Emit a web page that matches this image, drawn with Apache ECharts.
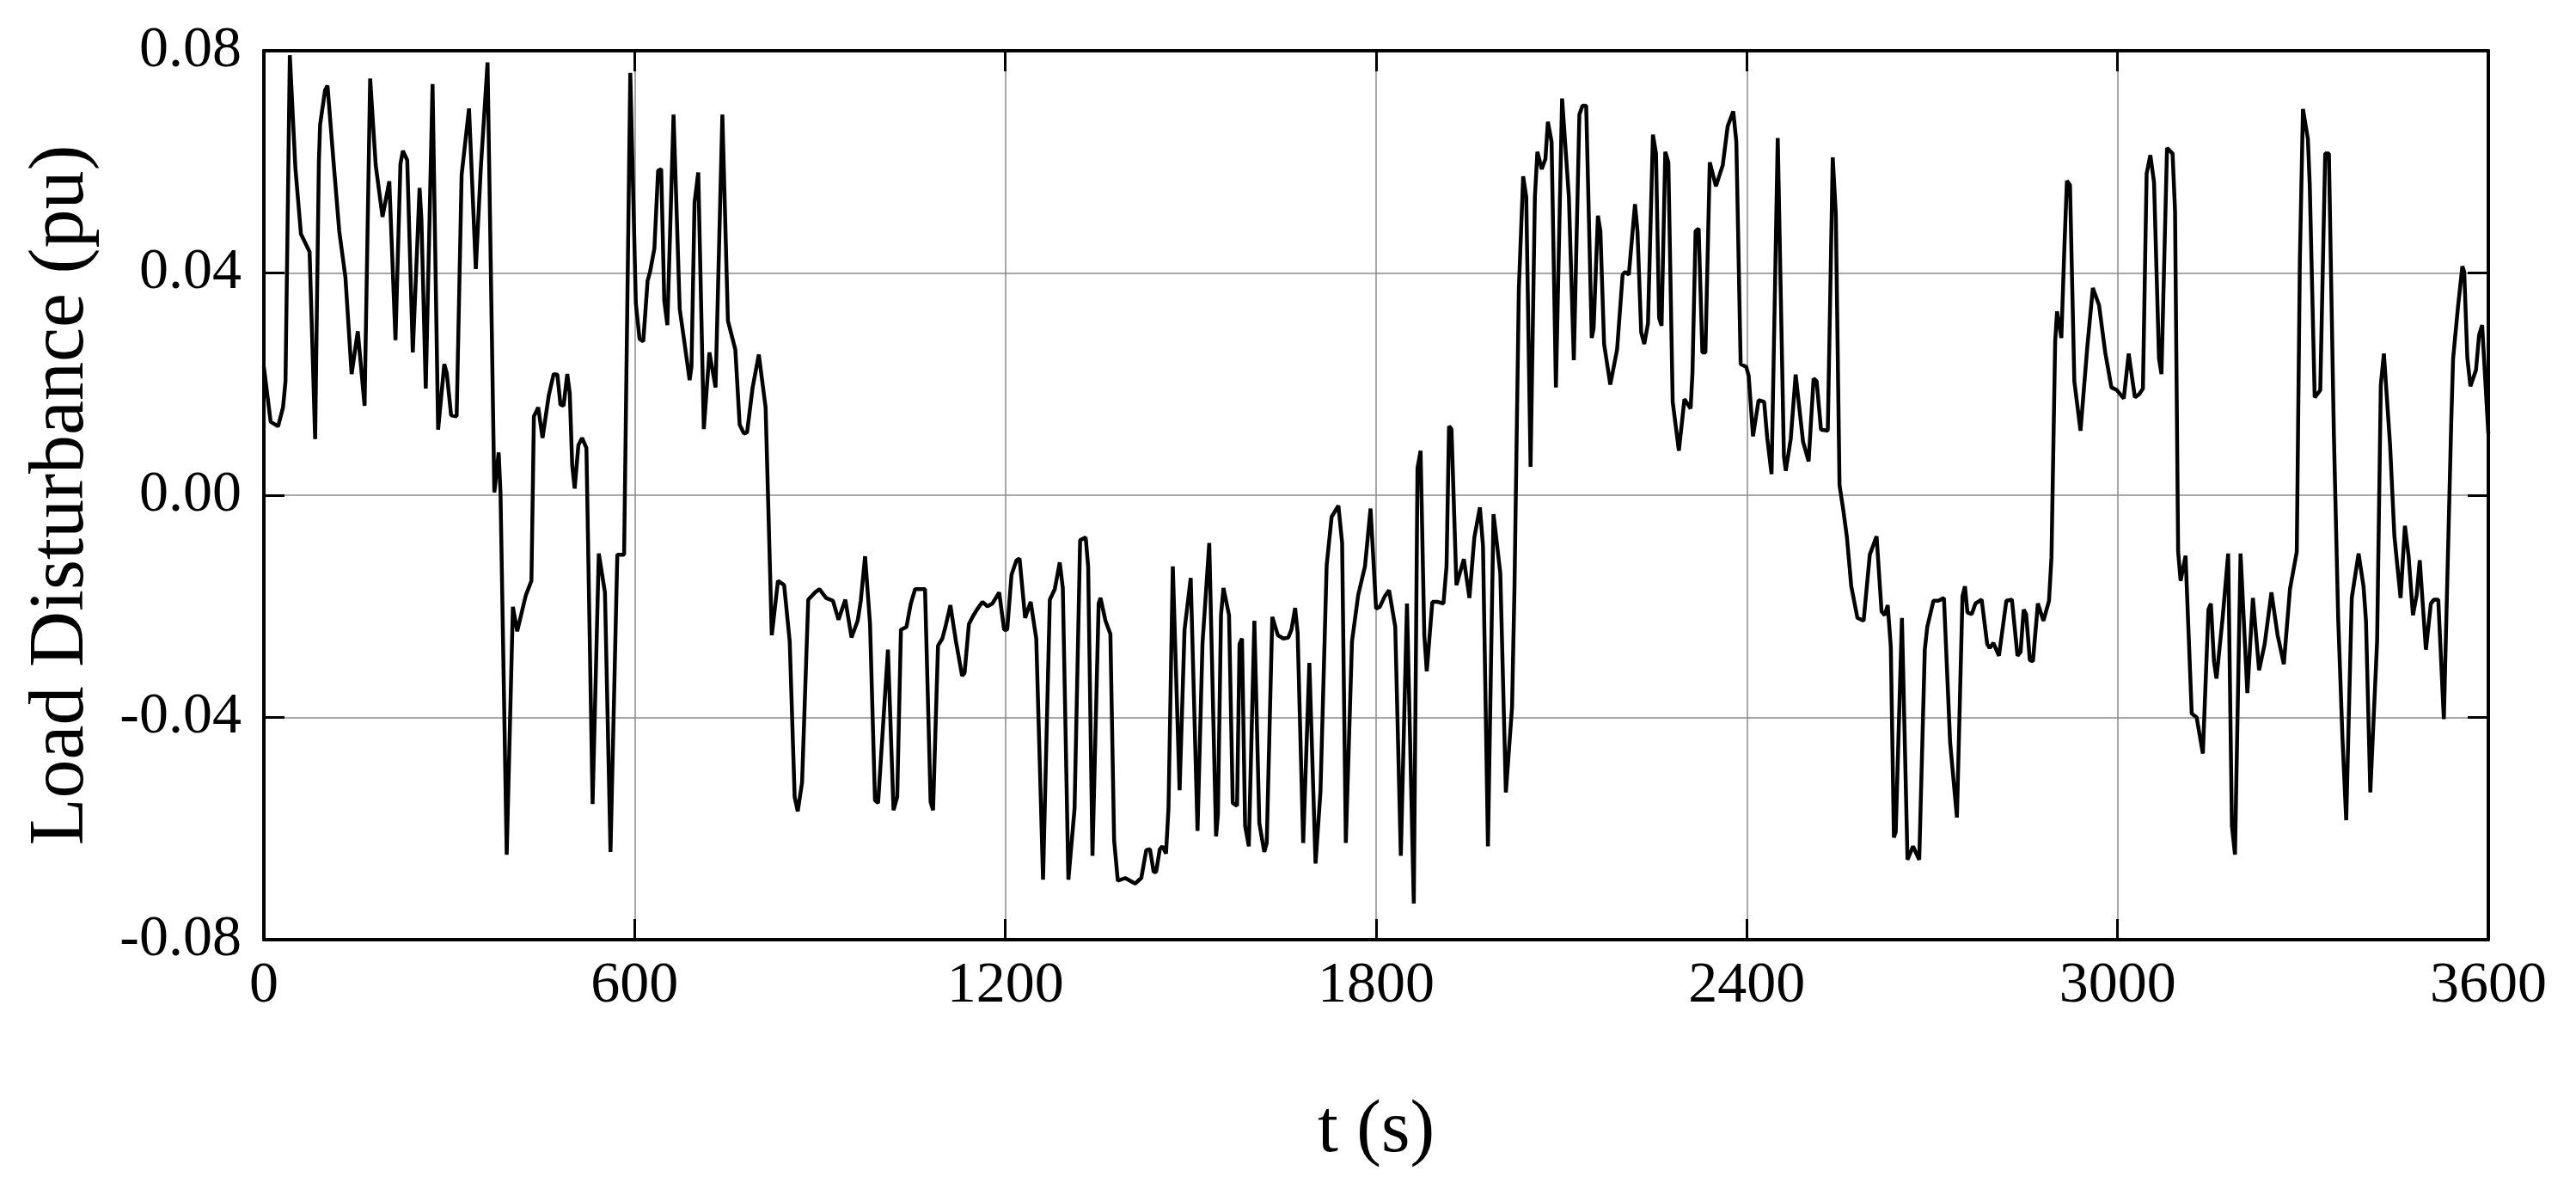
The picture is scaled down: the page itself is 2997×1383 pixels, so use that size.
<!DOCTYPE html>
<html>
<head>
<meta charset="utf-8">
<script src="https://cdn.jsdelivr.net/npm/echarts@6/dist/echarts.min.js"></script>
<style>
  html, body { margin: 0; padding: 0; background: #fff; }
  #chart { width: 2997px; height: 1383px; }
</style>
</head>
<body>
<div id="chart"></div>
<script>
// time stamps (s) of the load disturbance trace
var time = [
    0, 11, 23, 31, 35, 42, 51, 60, 67, 74, 83, 89, 91, 99, 103, 112, 122, 132, 142, 152,
    163, 172, 181, 192, 203, 213, 221, 225, 232, 241, 252, 255, 262, 273, 282, 292, 296, 303, 312, 320,
    332, 343, 351, 362, 373, 380, 383, 393, 403, 410, 424, 433, 437, 444, 451, 461, 469, 475, 480, 485,
    491, 495, 499, 503, 509, 515, 522, 532, 542, 546, 552, 561, 572, 583, 593, 602, 608, 614, 621, 625,
    632, 638, 643, 648, 653, 663, 673, 681, 689, 692, 697, 703, 712, 721, 731, 742, 751, 763, 770, 777,
    782, 791, 801, 812, 822, 832, 842, 851, 859, 864, 871, 881, 892, 899, 910, 921, 930, 941, 951, 961,
    966, 973, 981, 989, 994, 1010, 1019, 1025, 1031, 1040, 1047, 1054, 1070, 1079, 1083, 1091, 1098, 1103, 1111, 1120,
    1130, 1134, 1141, 1147, 1154, 1163, 1171, 1179, 1190, 1198, 1203, 1210, 1218, 1223, 1232, 1241, 1250, 1261, 1272, 1280,
    1288, 1293, 1302, 1312, 1321, 1330, 1334, 1341, 1351, 1354, 1362, 1370, 1376, 1382, 1394, 1402, 1410, 1420, 1428, 1434,
    1440, 1444, 1450, 1454, 1460, 1464, 1471, 1482, 1490, 1500, 1511, 1519, 1530, 1541, 1544, 1549, 1553, 1562, 1568, 1575,
    1579, 1583, 1588, 1594, 1603, 1611, 1619, 1623, 1632, 1641, 1650, 1658, 1663, 1669, 1673, 1682, 1692, 1702, 1710, 1720,
    1728, 1739, 1745, 1751, 1761, 1771, 1782, 1791, 1800, 1806, 1814, 1821, 1831, 1840, 1850, 1861, 1867, 1872, 1878, 1882,
    1891, 1900, 1909, 1914, 1918, 1922, 1930, 1942, 1951, 1959, 1968, 1973, 1981, 1990, 2001, 2010, 2020, 2024, 2031, 2038,
    2043, 2050, 2057, 2061, 2068, 2074, 2078, 2084, 2091, 2101, 2112, 2120, 2129, 2134, 2140, 2149, 2152, 2159, 2163, 2169,
    2179, 2190, 2199, 2203, 2209, 2219, 2223, 2229, 2234, 2240, 2248, 2253, 2258, 2262, 2268, 2273, 2280, 2290, 2299, 2309,
    2312, 2317, 2322, 2328, 2333, 2340, 2350, 2361, 2369, 2378, 2383, 2390, 2399, 2403, 2410, 2419, 2428, 2433, 2440, 2450,
    2460, 2463, 2471, 2479, 2491, 2500, 2508, 2513, 2520, 2531, 2539, 2544, 2550, 2556, 2562, 2569, 2579, 2589, 2599, 2610,
    2618, 2623, 2628, 2633, 2638, 2641, 2651, 2660, 2669, 2679, 2688, 2692, 2702, 2710, 2719, 2729, 2740, 2749, 2753, 2757,
    2764, 2770, 2780, 2789, 2793, 2799, 2808, 2820, 2829, 2838, 2843, 2848, 2852, 2858, 2863, 2871, 2880, 2889, 2893, 2899,
    2902, 2909, 2914, 2918, 2923, 2930, 2940, 2951, 2960, 2970, 2980, 2990, 2999, 3010, 3018, 3028, 3035, 3041, 3047, 3053,
    3059, 3067, 3071, 3080, 3089, 3093, 3098, 3102, 3110, 3120, 3128, 3138, 3147, 3151, 3156, 3160, 3170, 3179, 3185, 3190,
    3199, 3210, 3219, 3229, 3238, 3249, 3259, 3269, 3279, 3290, 3295, 3300, 3308, 3311, 3319, 3328, 3336, 3342, 3350, 3357,
    3364, 3370, 3379, 3390, 3398, 3402, 3409, 3420, 3426, 3431, 3441, 3448, 3458, 3465, 3471, 3478, 3484, 3489, 3499, 3507,
    3512, 3519, 3528, 3540, 3543, 3551, 3558, 3561, 3566, 3571, 3580, 3585, 3590, 3600
];

// load disturbance (pu)
var load = [
    0.0231, 0.0132, 0.0124, 0.0158, 0.0205, 0.0792, 0.0589, 0.0470, 0.0454, 0.0438, 0.0101, 0.0600, 0.0667, 0.0729, 0.0737, 0.0610, 0.0475, 0.0392, 0.0218, 0.0295,
    0.0161, 0.0750, 0.0594, 0.0501, 0.0565, 0.0279, 0.0596, 0.0620, 0.0603, 0.0257, 0.0553, 0.0496, 0.0192, 0.0740, 0.0118, 0.0236, 0.0220, 0.0144, 0.0142, 0.0576,
    0.0696, 0.0407, 0.0587, 0.0779, 0.0005, 0.0077, 0.0002, -0.0647, -0.0201, -0.0245, -0.0180, -0.0154, 0.0142, 0.0158, 0.0103, 0.0179, 0.0218, 0.0217, 0.0163, 0.0161,
    0.0218, 0.0184, 0.0054, 0.0012, 0.0090, 0.0103, 0.0085, -0.0556, -0.0105, -0.0133, -0.0175, -0.0642, -0.0107, -0.0107, 0.0760, 0.0345, 0.0281, 0.0277, 0.0386, 0.0402,
    0.0444, 0.0584, 0.0587, 0.0350, 0.0306, 0.0685, 0.0335, 0.0272, 0.0207, 0.0231, 0.0527, 0.0581, 0.0119, 0.0257, 0.0194, 0.0685, 0.0314, 0.0262, 0.0127, 0.0111,
    0.0113, 0.0194, 0.0253, 0.0158, -0.0252, -0.0154, -0.0162, -0.0263, -0.0543, -0.0569, -0.0517, -0.0188, -0.0175, -0.0169, -0.0185, -0.0190, -0.0224, -0.0188, -0.0256, -0.0226,
    -0.0190, -0.0110, -0.0232, -0.0549, -0.0554, -0.0278, -0.0567, -0.0543, -0.0242, -0.0237, -0.0195, -0.0169, -0.0169, -0.0552, -0.0567, -0.0271, -0.0258, -0.0237, -0.0198, -0.0263,
    -0.0325, -0.0320, -0.0232, -0.0219, -0.0206, -0.0192, -0.0200, -0.0195, -0.0175, -0.0242, -0.0242, -0.0143, -0.0117, -0.0114, -0.0221, -0.0192, -0.0258, -0.0692, -0.0188, -0.0169,
    -0.0121, -0.0167, -0.0692, -0.0564, -0.0081, -0.0076, -0.0128, -0.0649, -0.0195, -0.0185, -0.0226, -0.0250, -0.0621, -0.0694, -0.0689, -0.0694, -0.0699, -0.0689, -0.0639, -0.0637,
    -0.0678, -0.0678, -0.0637, -0.0632, -0.0645, -0.0564, -0.0128, -0.0531, -0.0242, -0.0149, -0.0604, -0.0268, -0.0086, -0.0614, -0.0575, -0.0216, -0.0167, -0.0216, -0.0554, -0.0559,
    -0.0268, -0.0258, -0.0595, -0.0632, -0.0226, -0.0590, -0.0642, -0.0626, -0.0219, -0.0252, -0.0258, -0.0256, -0.0242, -0.0203, -0.0247, -0.0626, -0.0302, -0.0663, -0.0533, -0.0126,
    -0.0039, -0.0019, -0.0086, -0.0626, -0.0263, -0.0180, -0.0128, -0.0024, -0.0204, -0.0201, -0.0182, -0.0171, -0.0237, -0.0649, -0.0195, -0.0735, 0.0049, 0.0080, -0.0252, -0.0317,
    -0.0192, -0.0192, -0.0195, -0.0128, 0.0124, 0.0119, -0.0162, -0.0115, -0.0185, -0.0076, -0.0022, -0.0091, -0.0632, -0.0034, -0.0140, -0.0535, -0.0382, -0.0164, 0.0371, 0.0574,
    0.0537, 0.0051, 0.0537, 0.0618, 0.0587, 0.0605, 0.0672, 0.0636, 0.0194, 0.0714, 0.0537, 0.0243, 0.0685, 0.0701, 0.0701, 0.0283, 0.0300, 0.0503, 0.0475, 0.0272,
    0.0199, 0.0262, 0.0397, 0.0402, 0.0397, 0.0524, 0.0475, 0.0293, 0.0272, 0.0309, 0.0649, 0.0615, 0.0319, 0.0305, 0.0618, 0.0599, 0.0168, 0.0080, 0.0173, 0.0156,
    0.0220, 0.0475, 0.0480, 0.0257, 0.0257, 0.0599, 0.0556, 0.0594, 0.0664, 0.0691, 0.0636, 0.0236, 0.0231, 0.0215, 0.0106, 0.0171, 0.0168, 0.0103, 0.0038, 0.0643,
    0.0070, 0.0044, 0.0101, 0.0217, 0.0096, 0.0061, 0.0210, 0.0205, 0.0118, 0.0116, 0.0608, 0.0506, 0.0018, -0.0026, -0.0076, -0.0164, -0.0221, -0.0226, -0.0107, -0.0074,
    -0.0209, -0.0216, -0.0198, -0.0273, -0.0616, -0.0606, -0.0221, -0.0656, -0.0632, -0.0656, -0.0278, -0.0237, -0.0190, -0.0190, -0.0185, -0.0445, -0.0580, -0.0182, -0.0164, -0.0211,
    -0.0214, -0.0195, -0.0188, -0.0268, -0.0275, -0.0266, -0.0289, -0.0190, -0.0188, -0.0289, -0.0282, -0.0206, -0.0214, -0.0297, -0.0299, -0.0195, -0.0226, -0.0190, -0.0112, 0.0277,
    0.0331, 0.0283, 0.0449, 0.0566, 0.0558, 0.0205, 0.0116, 0.0267, 0.0373, 0.0342, 0.0257, 0.0194, 0.0189, 0.0174, 0.0255, 0.0176, 0.0182, 0.0192, 0.0579, 0.0612,
    0.0563, 0.0246, 0.0218, 0.0625, 0.0615, 0.0511, -0.0102, -0.0154, -0.0109, -0.0393, -0.0400, -0.0465, -0.0206, -0.0195, -0.0299, -0.0330, -0.0221, -0.0105, -0.0595, -0.0647,
    -0.0105, -0.0356, -0.0185, -0.0315, -0.0268, -0.0175, -0.0252, -0.0304, -0.0169, -0.0102, 0.0423, 0.0695, 0.0641, 0.0558, 0.0176, 0.0189, 0.0615, 0.0615, 0.0111, -0.0221,
    -0.0439, -0.0585, -0.0185, -0.0105, -0.0164, -0.0226, -0.0535, -0.0263, 0.0199, 0.0255, 0.0090, -0.0074, -0.0185, -0.0055, -0.0110, -0.0216, -0.0180, -0.0117, -0.0278, -0.0195,
    -0.0188, -0.0188, -0.0403, 0.0132, 0.0246, 0.0340, 0.0412, 0.0402, 0.0248, 0.0196, 0.0225, 0.0288, 0.0306, 0.0111
];

// axis ticks
var xTicks = [0, 600, 1200, 1800, 2400, 3000, 3600];
var yTicks = [-0.08, -0.04, 0.00, 0.04, 0.08];

var font = 'Liberation Serif';
var chart = echarts.init(document.getElementById('chart'));

var points = [];
for (var i = 0; i < time.length; i++) {
    points.push([time[i], load[i]]);
}

var tickStyle = {
    show: true,
    inside: true,
    length: 24,
    lineStyle: { color: '#000', width: 3 }
};
var frameLine = {
    show: true,
    onZero: false,
    lineStyle: { color: '#000', width: 4 }
};
var gridLine = {
    show: true,
    lineStyle: { color: '#8a8a8a', width: 1.5 }
};

var opt = {
    backgroundColor: '#fff',
    animation: false,
    grid: {
        left: 307,
        right: 102,
        top: 59,
        bottom: 290
    },
    xAxis: [
        {
            type: 'value',
            position: 'bottom',
            min: xTicks[0],
            max: xTicks[xTicks.length - 1],
            interval: 600,
            name: 't (s)',
            nameLocation: 'middle',
            nameGap: 180,
            nameTextStyle: { fontFamily: font, fontSize: 86, color: '#000' },
            axisLine: frameLine,
            axisTick: tickStyle,
            splitLine: gridLine,
            axisLabel: {
                margin: 20,
                fontFamily: font,
                fontSize: 68,
                color: '#000',
                formatter: function(v) {
                    return String(v);
                }
            }
        },
        {
            type: 'value',
            position: 'top',
            min: xTicks[0],
            max: xTicks[xTicks.length - 1],
            interval: 600,
            axisLine: frameLine,
            axisTick: tickStyle,
            splitLine: { show: false },
            axisLabel: { show: false }
        }
    ],
    yAxis: [
        {
            type: 'value',
            position: 'left',
            min: yTicks[0],
            max: yTicks[yTicks.length - 1],
            interval: 0.04,
            name: 'Load Disturbance (pu)',
            nameLocation: 'middle',
            nameGap: 190,
            nameTextStyle: { fontFamily: font, fontSize: 90, color: '#000' },
            axisLine: frameLine,
            axisTick: tickStyle,
            splitLine: gridLine,
            axisLabel: {
                margin: 26,
                fontFamily: font,
                fontSize: 68,
                color: '#000',
                formatter: function(v) {
                    return v.toFixed(2);
                }
            }
        },
        {
            type: 'value',
            position: 'right',
            min: yTicks[0],
            max: yTicks[yTicks.length - 1],
            interval: 0.04,
            axisLine: frameLine,
            axisTick: tickStyle,
            splitLine: { show: false },
            axisLabel: { show: false }
        }
    ],
    series: [
        {
            name: 'load',
            type: 'line',
            data: points,
            showSymbol: false,
            symbol: 'none',
            lineStyle: { color: '#000', width: 4.5 },
            z: 3
        }
    ]
};

chart.setOption(opt);
</script>
</body>
</html>
